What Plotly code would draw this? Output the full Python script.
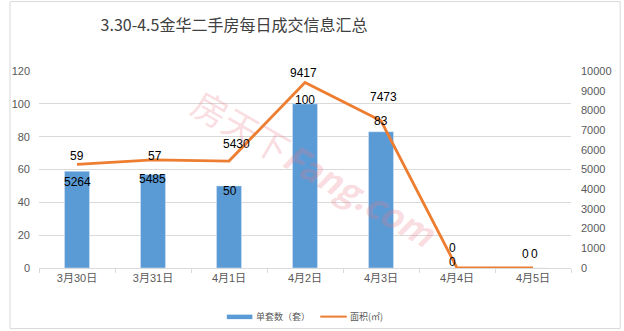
import plotly.graph_objects as go

categories = ["3月30日", "3月31日", "4月1日", "4月2日", "4月3日", "4月4日", "4月5日"]
units = [59, 57, 50, 100, 83, 0, 0]          # 单套数（套）
area = [5264, 5485, 5430, 9417, 7473, 0, 0]  # 面积(㎡)
left_ticks = [0, 20, 40, 60, 80, 100, 120]
right_ticks = [0, 1000, 2000, 3000, 4000, 5000, 6000, 7000, 8000, 9000, 10000]

title_text = "3.30-4.5金华二手房每日成交信息汇总"
bar_name = "单套数（套）"
line_name = "面积(㎡)"

BLUE = "#5b9bd5"
ORANGE = "#ed7d31"
GRID = "#d9d9d9"
TXT = "#595959"
FONT = "Liberation Sans, Noto Sans CJK SC, sans-serif"

# plot area in pixels
L, R, T, B = 31, 572, 71, 268.3
W, H = R - L, B - T

fig = go.Figure()
fig.add_trace(go.Bar(x=categories, y=units, name=bar_name, marker_color=BLUE,
                     width=0.33, showlegend=False, yaxis="y"))
fig.add_trace(go.Scatter(x=categories, y=area, name=line_name, mode="lines",
                         line=dict(color=ORANGE, width=2.8), showlegend=False, yaxis="y2"))

# data labels (pixel offsets tuned to reference placement)
bar_shift = [(0, 15.6), (2, 18.9), (1, -4.6), (0, 3.9), (0, 11.1), (-5, 6), (1, 14)]
line_shift = [(0, -17.6), (-1, -19.2), (7, 17.2), (-2, 9.2), (2, 23.6), (-5, 20), (-8, 14)]
ann = []
for i, c in enumerate(categories):
    ann.append(dict(x=c, y=units[i], xref="x", yref="y", text=str(units[i]), showarrow=False,
                    xshift=bar_shift[i][0], yshift=bar_shift[i][1],
                    font=dict(size=12, color="#000000", family=FONT)))
    ann.append(dict(x=c, y=area[i], xref="x", yref="y2", text=str(area[i]), showarrow=False,
                    xshift=line_shift[i][0], yshift=line_shift[i][1],
                    font=dict(size=12, color="#000000", family=FONT)))

def px_x(p):
    return (p - L) / W

def px_y(p):
    return (B - p) / H

# watermark
ann.append(dict(x=px_x(312), y=px_y(168), xref="paper", yref="paper", showarrow=False,
                text="房天下<b><i>Fang.com</i></b>", textangle=30,
                font=dict(size=35, color="rgba(232,120,135,0.26)", family="Noto Sans CJK SC")))

# legend (custom)
ann.append(dict(x=px_x(250), y=px_y(317), xref="paper", yref="paper", showarrow=False,
                text=bar_name, xanchor="left", yanchor="middle",
                font=dict(size=9, color=TXT, family="Noto Sans CJK SC")))
ann.append(dict(x=px_x(345), y=px_y(317), xref="paper", yref="paper", showarrow=False,
                text=line_name, xanchor="left", yanchor="middle",
                font=dict(size=9, color=TXT, family="Noto Sans CJK SC")))

shapes = [
    dict(type="rect", xref="paper", yref="paper", x0=px_x(222), x1=px_x(248),
         y0=px_y(319.5), y1=px_y(315), fillcolor=BLUE, line=dict(width=0)),
    dict(type="line", xref="paper", yref="paper", x0=px_x(317), x1=px_x(344),
         y0=px_y(317), y1=px_y(317), line=dict(color=ORANGE, width=2)),
    dict(type="rect", xref="paper", yref="paper", x0=px_x(1.5), x1=px_x(622),
         y0=px_y(329), y1=px_y(1.5), line=dict(color=GRID, width=1), layer="below"),
]

fig.update_layout(
    width=624, height=331,
    margin=dict(l=L, r=624 - R, t=T, b=331 - B),
    paper_bgcolor="white", plot_bgcolor="white",
    font=dict(family=FONT, color=TXT, size=11),
    title=dict(text=title_text, x=234 / 624, xanchor="center", xref="container",
               y=1 - 25 / 331, yanchor="middle", yref="container",
               font=dict(size=16, color="#404040", family="Noto Sans CJK SC")),
    xaxis=dict(type="category", showline=True, linecolor=GRID, linewidth=1,
               ticks="outside", tickson="boundaries", ticklen=4, tickcolor=GRID,
               tickfont=dict(size=11, color=TXT), showgrid=False),
    yaxis=dict(range=[0, 120], tickvals=left_ticks, ticktext=[str(v) for v in left_ticks],
               showgrid=True, gridcolor=GRID,
               zeroline=False, showline=False, ticks="", tickfont=dict(size=11, color=TXT),
               ticklabelstandoff=8),
    yaxis2=dict(range=[0, 10000], tickvals=right_ticks, ticktext=[str(v) for v in right_ticks],
                overlaying="y", side="right",
                showgrid=False, zeroline=False, showline=False, ticks="",
                tickfont=dict(size=11, color=TXT), ticklabelstandoff=9),
    annotations=ann, shapes=shapes, showlegend=False,
)

fig.write_html("out.html")
